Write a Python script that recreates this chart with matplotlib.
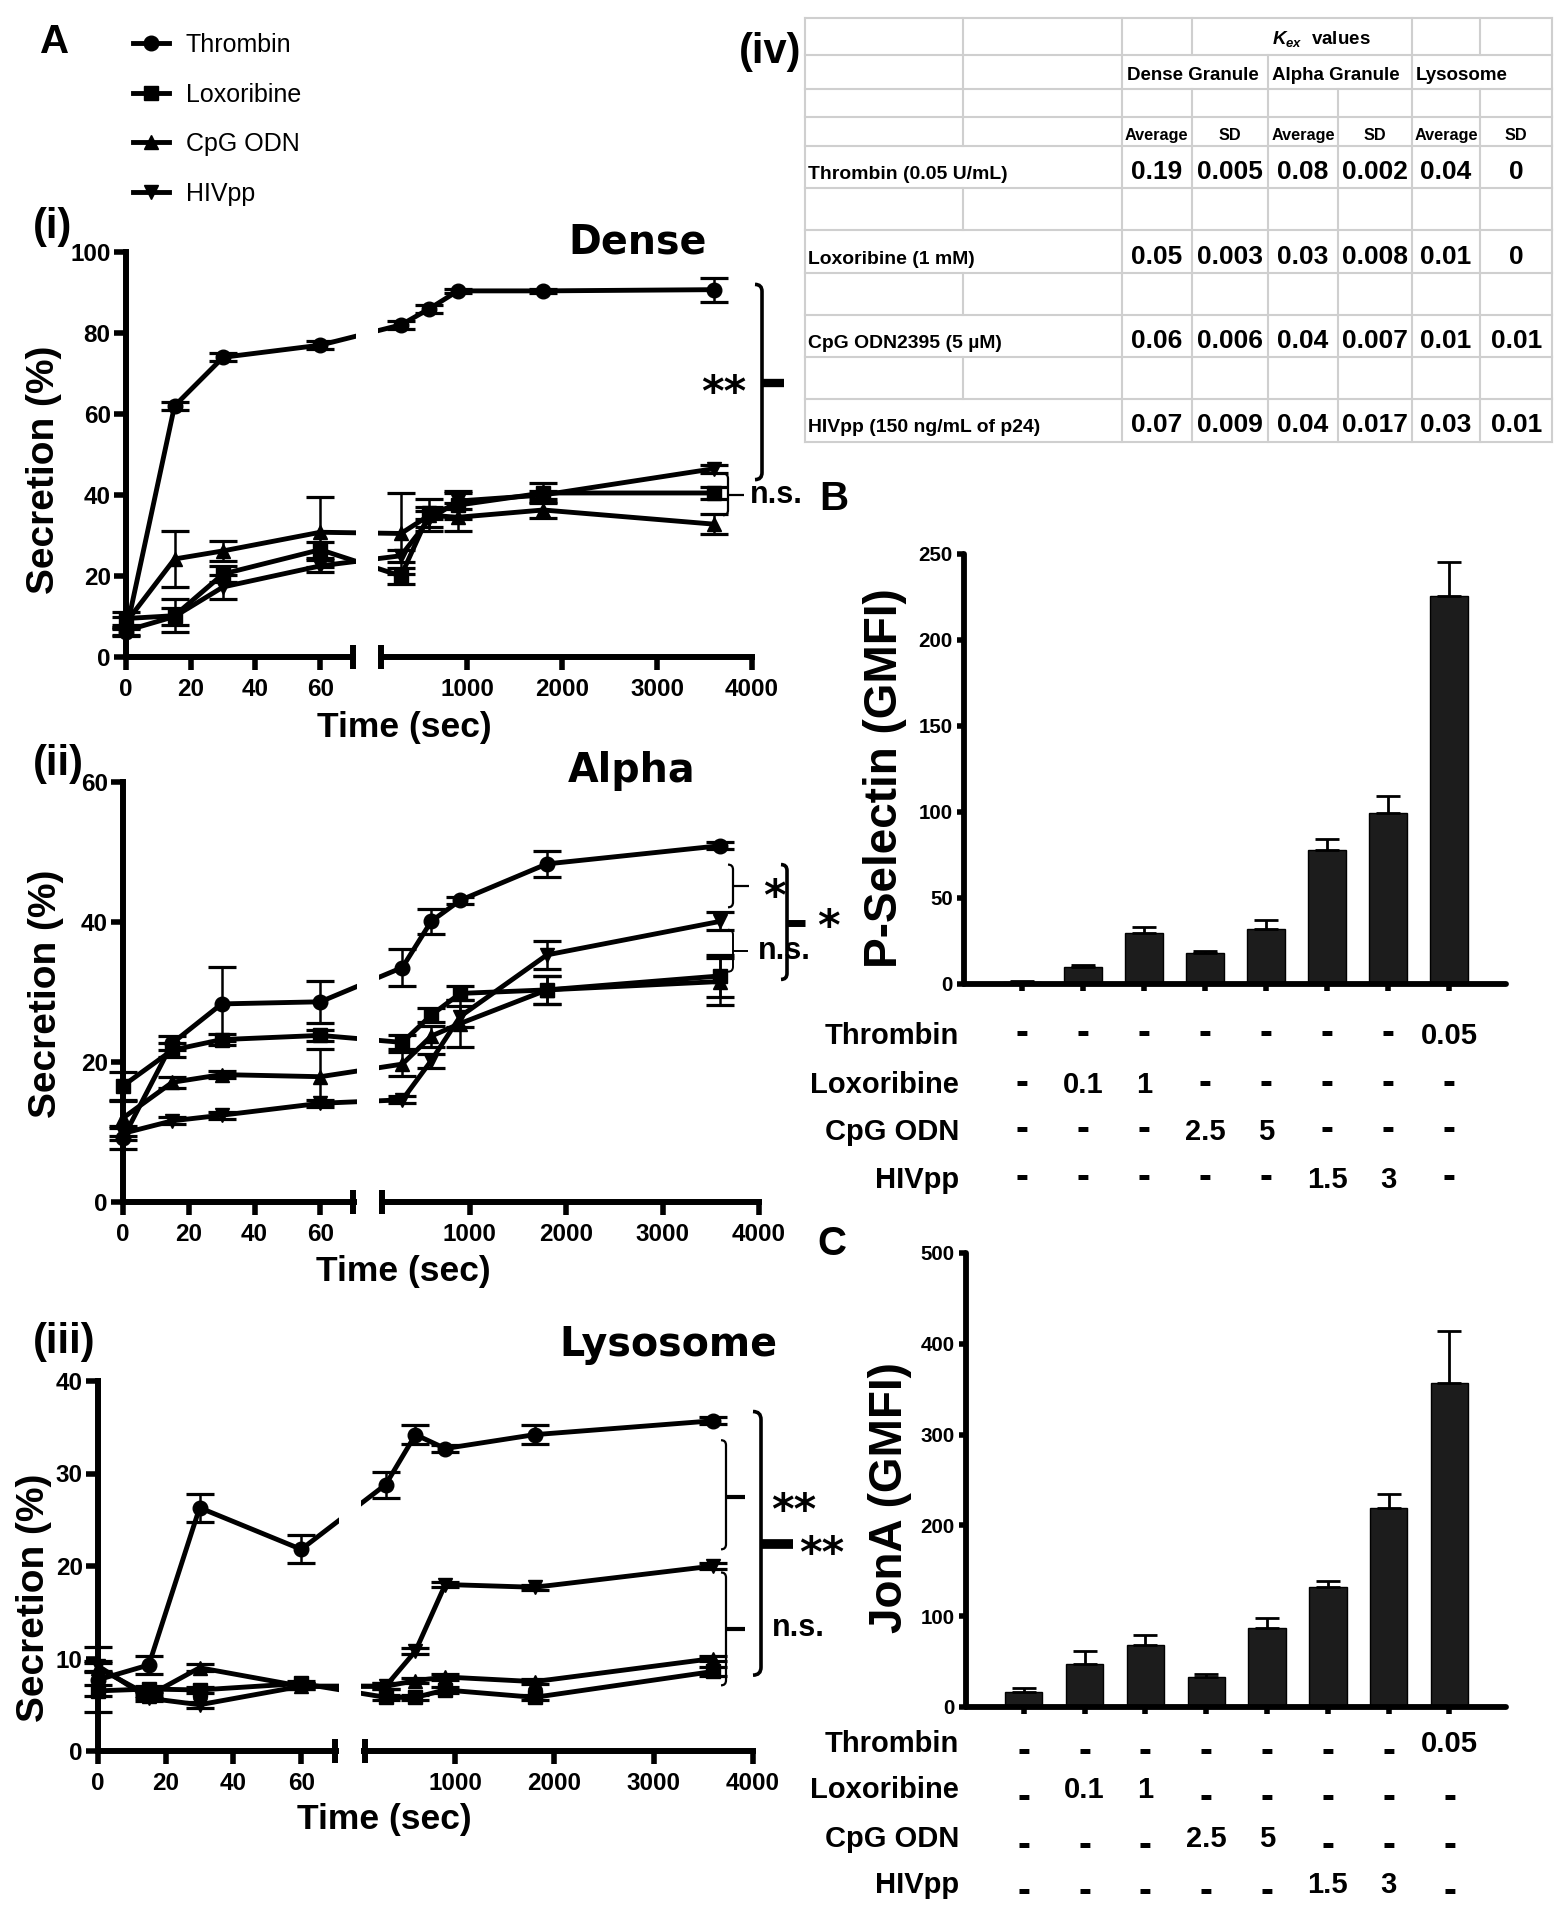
import numpy as np
import matplotlib
matplotlib.use("Agg")
import matplotlib.pyplot as plt
from matplotlib import font_manager
from matplotlib.path import Path
from matplotlib.patches import PathPatch
from matplotlib.lines import Line2D
from matplotlib.ticker import NullFormatter

_names = {f.name for f in font_manager.fontManager.ttflist}
SANS = "Liberation Sans" if "Liberation Sans" in _names else "DejaVu Sans"
if "Liberation Sans Narrow" in _names:
    NARROW, NSC = "Liberation Sans Narrow", 1.0
else:
    NARROW, NSC = SANS, 0.87
WIDE = "DejaVu Sans"


def nfs(s):
    return s * NSC


plt.rcParams["font.family"] = [NARROW, "DejaVu Sans"]
plt.rcParams["font.weight"] = "bold"
plt.rcParams["mathtext.fontset"] = "custom"
plt.rcParams["mathtext.it"] = f"{NARROW}:italic:bold"
plt.rcParams["mathtext.rm"] = f"{NARROW}:bold"

# ---------------- data ----------------
time_s = [0, 15, 30, 60, 300, 600, 900, 1800, 3600]
series_names = ["Thrombin", "Loxoribine", "CpG ODN", "HIVpp"]

dense_thrombin = [6.2, 62, 74, 77, 82, 86, 90.4, 90.4, 90.7]
dense_thrombin_sd = [1, 1, 1, 1, 1, 1, 0.5, 0.5, 3]
dense_loxoribine = [9.5, 10.2, 20.5, 26.5, 20, 35.5, 37.5, 40.5, 40.5]
dense_loxoribine_sd = [1.5, 4, 2, 2, 2, 1.5, 3.5, 2.5, 1.5]
dense_cpg = [8.5, 24.2, 26.2, 30.8, 30.5, 35, 34.5, 36.3, 32.8]
dense_cpg_sd = [1.5, 6.8, 2.5, 8.7, 10, 4, 3.5, 2, 2.5]
dense_hiv = [6.5, 10, 17.3, 22.5, 25, 34, 38.5, 40, 46.5]
dense_hiv_sd = [1, 2, 3, 1.5, 1.5, 2, 2, 1, 1]

alpha_thrombin = [9.1, 22.7, 28.3, 28.6, 33.5, 40.1, 43.1, 48.3, 50.9]
alpha_thrombin_sd = [1.5, 1, 5.3, 3, 2.7, 1.8, 0.5, 1.9, 0.5]
alpha_loxoribine = [16.6, 21.7, 23.2, 23.8, 22.8, 26.7, 29.8, 30.3, 32.3]
alpha_loxoribine_sd = [2, 1, 0.8, 0.8, 1, 1, 1, 2, 3]
alpha_cpg = [12, 17.1, 18.2, 17.9, 19.7, 23.7, 25.5, 30.3, 31.5]
alpha_cpg_sd = [2.5, 0.8, 0.5, 3.9, 1.7, 1.5, 3.3, 2, 3.4]
alpha_hiv = [9.8, 11.6, 12.4, 14.1, 14.6, 20.2, 26.5, 35.3, 40.1]
alpha_hiv_sd = [1, 0.5, 0.5, 0.5, 0.5, 1, 1.5, 2, 1.3]

lyso_thrombin = [7.7, 9.3, 26.3, 21.8, 28.8, 34.2, 32.7, 34.2, 35.7]
lyso_thrombin_sd = [3.5, 1, 1.5, 1.5, 1.4, 1, 0.4, 1, 0.4]
lyso_loxoribine = [6.5, 6.7, 6.6, 7.3, 5.8, 5.8, 6.6, 5.8, 8.6]
lyso_loxoribine_sd = [0.6, 0.3, 0.3, 0.3, 0.3, 0.3, 0.3, 0.3, 0.5]
lyso_cpg = [9, 6, 9, 7, 7, 7.6, 8, 7.5, 10]
lyso_cpg_sd = [0.5, 0.3, 0.4, 0.3, 0.3, 0.3, 0.3, 0.3, 0.3]
lyso_hiv = [9.2, 5.7, 5, 7, 7, 10.8, 18, 17.7, 20]
lyso_hiv_sd = [0.5, 0.3, 0.3, 0.3, 0.3, 0.3, 0.3, 0.3, 0.3]

# Kex table
kex_rows = ["Thrombin (0.05 U/mL)", "Loxoribine (1 mM)", "CpG ODN2395 (5 \u00b5M)",
            "HIVpp (150 ng/mL of p24)"]
kex_groups = ["Dense Granule", "Alpha Granule", "Lysosome"]
kex_dense_avg = [0.19, 0.05, 0.06, 0.07]
kex_dense_sd = [0.005, 0.003, 0.006, 0.009]
kex_alpha_avg = [0.08, 0.03, 0.04, 0.04]
kex_alpha_sd = [0.002, 0.008, 0.007, 0.017]
kex_lyso_avg = [0.04, 0.01, 0.01, 0.03]
kex_lyso_sd = [0, 0, 0.01, 0.01]

# B / C bars
pselectin = [1.4, 10.1, 29.6, 18.1, 32, 77.9, 99.5, 225.3]
pselectin_err = [0.5, 1, 3.8, 1, 5, 6.3, 10, 20.3]
jona = [16.1, 47.5, 68.3, 32.7, 87.3, 132.2, 219.5, 357]
jona_err = [4.4, 14.7, 10.5, 3.9, 11.2, 6.3, 15.5, 57]
cond_labels = ["Thrombin", "Loxoribine", "CpG ODN", "HIVpp"]
cond_thrombin = ["-", "-", "-", "-", "-", "-", "-", "0.05"]
cond_loxoribine = ["-", "0.1", "1", "-", "-", "-", "-", "-"]
cond_cpg = ["-", "-", "-", "2.5", "5", "-", "-", "-"]
cond_hiv = ["-", "-", "-", "-", "-", "1.5", "3", "-"]

# ---------------- figure helpers ----------------
W, H = 1561, 1920
fig = plt.figure(figsize=(W / 100, H / 100), dpi=100)
PX = 72 / 100  # points per pixel


def add_ax(l, t, r, b):
    return fig.add_axes([l / W, 1 - b / H, (r - l) / W, (b - t) / H])


def text_c(x, yc, s, fs, ha="center", family=SANS, weight="bold", capfrac=0.358, **kw):
    base = yc + capfrac * fs / PX
    fig.text(x / W, 1 - base / H, s, fontsize=fs, ha=ha, va="baseline",
             family=family, weight=weight, **kw)


def text_b(x, base, s, fs, ha="left", family=SANS, weight="bold", **kw):
    fig.text(x / W, 1 - base / H, s, fontsize=fs, ha=ha, va="baseline",
             family=family, weight=weight, **kw)


# broken time axis scale
L_FRAC, R0_FRAC, T0 = 0.362, 0.408, 94.0
_slope_r = (1 - R0_FRAC) / (4000 - T0)
_TS = np.array([-1e6, 0, 70, T0, 4000, 1e6])
_US = np.array([-1e6 * L_FRAC / 70, 0, L_FRAC, R0_FRAC, 1.0, 1 + (1e6 - 4000) * _slope_r])


def fwd(t):
    return np.interp(np.asarray(t, float), _TS, _US)


def inv(u):
    return np.interp(np.asarray(u, float), _US, _TS)


MARKERS = ["o", "s", "^", "v"]
LW_SP = 4.3
TICK_FS = 19 if NSC == 1.0 else 17.5


def time_panel(rect, ymax, ystep, ys, errs):
    ax = add_ax(*rect)
    ax.set_xscale("function", functions=(fwd, inv))
    ax.set_xlim(0, 4000)
    ax.set_ylim(0, ymax)
    handles = []
    for y, e, m in zip(ys, errs, MARKERS):
        eb = ax.errorbar(time_s, y, yerr=e, fmt="none", ecolor="black",
                         elinewidth=1.8, capsize=10, capthick=2.3, zorder=2.1)
        for a in eb.get_children():
            a.set_clip_on(False)
        ln, = ax.plot(time_s, y, marker=m, color="black", lw=3.5, ms=10.5,
                      clip_on=False, zorder=2.2, solid_joinstyle="round")
        handles.append(ln)
    ax.spines[["top", "right"]].set_visible(False)
    for sp in ("left", "bottom"):
        ax.spines[sp].set_linewidth(LW_SP)
        ax.spines[sp].set_zorder(2.0)
    ax.set_xticks([0, 20, 40, 60, 1000, 2000, 3000, 4000])
    ax.set_xticklabels(["0", "20", "40", "60", "1000", "2000", "3000", "4000"])
    ax.set_xticks([70, T0], minor=True)
    ax.xaxis.set_minor_formatter(NullFormatter())
    ax.set_yticks(np.arange(0, ymax + 0.1, ystep))
    ax.tick_params(which="major", length=9, width=4, labelsize=TICK_FS)
    ax.tick_params(axis="x", which="major", pad=6)
    ax.tick_params(axis="y", which="major", pad=2)
    ax.tick_params(axis="x", which="minor", direction="inout", length=17, width=4.3)
    ta, tb = inv(L_FRAC + 0.006), inv(R0_FRAC - 0.006)
    ax.axvspan(ta, tb, ymin=-0.08, ymax=1.0, color="white", zorder=2.6,
               clip_on=False, lw=0)
    return ax, handles


def ydisp(ax, v):
    return ax.transData.transform((1000.0, v))[1]


def brace(ax, x, y0, y1, ymid, tip, lw=1.6, hook=6, tiplw=None):
    b, t, m = ydisp(ax, y0), ydisp(ax, y1), ydisp(ax, ymid)
    verts = [(x - hook, t), (x, t), (x, t - hook), (x, b + hook), (x, b), (x - hook, b)]
    codes = [Path.MOVETO, Path.CURVE3, Path.CURVE3, Path.LINETO, Path.CURVE3, Path.CURVE3]
    verts = [(vx / W, vy / H) for vx, vy in verts]
    fig.add_artist(PathPatch(Path(verts, codes), fill=False, lw=lw, color="black",
                             transform=fig.transFigure))
    fig.add_artist(Line2D([x / W, (x + tip) / W], [m / H, m / H], lw=tiplw or lw,
                          color="black", transform=fig.transFigure,
                          solid_capstyle="butt"))


def star(ax, x, yv, s, fs=31):
    yd = ydisp(ax, yv) - 0.54 * fs / PX
    fig.text(x / W, yd / H, s, fontsize=fs, ha="center", va="baseline",
             family=WIDE, weight="bold")


def ns(ax, x, yv, fs=22):
    yd = ydisp(ax, yv) - 0.26 * fs / PX
    fig.text(x / W, yd / H, "n.s.", fontsize=fs, ha="left", va="baseline",
             family=SANS, weight="bold")


# ---------------- panel A ----------------
axD, hD = time_panel((126, 252, 752, 657), 100, 20,
                     [dense_thrombin, dense_loxoribine, dense_cpg, dense_hiv],
                     [dense_thrombin_sd, dense_loxoribine_sd, dense_cpg_sd, dense_hiv_sd])
axA, _ = time_panel((123, 782, 759, 1202), 60, 20,
                    [alpha_thrombin, alpha_loxoribine, alpha_cpg, alpha_hiv],
                    [alpha_thrombin_sd, alpha_loxoribine_sd, alpha_cpg_sd, alpha_hiv_sd])
axL, _ = time_panel((98, 1381, 753, 1751), 40, 10,
                    [lyso_thrombin, lyso_loxoribine, lyso_cpg, lyso_hiv],
                    [lyso_thrombin_sd, lyso_loxoribine_sd, lyso_cpg_sd, lyso_hiv_sd])

for (xc, yc) in [(44, 470), (46, 994), (34, 1598)]:
    fig.text(xc / W, 1 - yc / H, "Secretion (%)", rotation=90, fontsize=28,
             ha="center", va="center", family=SANS, weight="bold")
for (xc, yc) in [(404, 727), (403, 1271), (384, 1820)]:
    fig.text(xc / W, 1 - yc / H, "Time (sec)", fontsize=25.5, ha="center",
             va="center", family=SANS, weight="bold")
for (xc, base, s) in [(638, 254, "Dense"), (632, 782, "Alpha"), (668, 1356, "Lysosome")]:
    text_b(xc, base, s, 28.5, ha="center", family=WIDE)
for (base, s) in [(238, "(i)"), (775, "(ii)"), (1353, "(iii)")]:
    text_b(33, base, s, 30)
text_b(739, 63, "(iv)", 30)
text_b(40, 53, "A", 29)
text_b(819, 510, "B", 29)
text_b(817, 1255, "C", 29)

fig.legend(hD, series_names, loc="upper left", bbox_to_anchor=(133 / W, 1 - 33 / H),
           frameon=False, borderpad=0, borderaxespad=0, handlelength=1.45,
           handletextpad=0.65, labelspacing=1.02,
           prop={"family": SANS, "size": 18, "weight": "normal"})

# significance brackets
brace(axD, 762, 43.8, 92, 67.7, 22, lw=2.6, hook=7, tiplw=6)
star(axD, 724, 67.7, "**")
brace(axD, 728, 35, 45.3, 40, 16, lw=1.6, hook=5)
ns(axD, 750, 40)

brace(axA, 733, 42.1, 48.2, 45.1, 16, lw=1.6, hook=5)
star(axA, 774, 45.1, "*")
brace(axA, 733, 32.9, 38.9, 35.8, 15, lw=1.4, hook=5)
ns(axA, 758, 35.8)
brace(axA, 787, 31.8, 48.2, 39.8, 18, lw=2.6, hook=6, tiplw=5)
star(axA, 828, 40.8, "*")

brace(axL, 726, 21.8, 33.6, 27.5, 19, lw=1.6, hook=5, tiplw=3)
star(axL, 794, 27, "**")
brace(axL, 726, 7.1, 19.3, 13.2, 19, lw=1.6, hook=5, tiplw=3)
ns(axL, 772, 13.3)
brace(axL, 761, 8.2, 36.7, 22.4, 32, lw=2.6, hook=8, tiplw=7)
star(axL, 822, 22.4, "**")

# ---------------- panels B and C ----------------
xpos = np.arange(len(pselectin))


def bar_panel(rect, vals, errs, ymax, ystep, ylabel, yl_xy, rows_y, dash_dy):
    ax = add_ax(*rect)
    ax.bar(xpos, vals, width=0.615, color="#1c1c1c", edgecolor="black", lw=1)
    ax.errorbar(xpos, vals, yerr=[np.zeros(len(vals)), errs], fmt="none",
                ecolor="black", elinewidth=2, capsize=8.5, capthick=2)
    ax.set_xlim(-0.95, 7.93)
    ax.set_ylim(0, ymax)
    ax.spines[["top", "right"]].set_visible(False)
    for sp in ("left", "bottom"):
        ax.spines[sp].set_linewidth(4.2)
        ax.spines[sp].set_capstyle("round")
    ax.set_xticks(xpos)
    ax.set_xticklabels([])
    ax.set_yticks(np.arange(0, ymax + 0.1, ystep))
    ax.tick_params(axis="x", length=5, width=4)
    ax.tick_params(axis="y", length=5, width=4, labelsize=nfs(17), pad=3)
    fig.text(yl_xy[0] / W, 1 - yl_xy[1] / H, ylabel, rotation=90, fontsize=33,
             ha="center", va="center", family=SANS, weight="bold")
    rows = [cond_thrombin, cond_loxoribine, cond_cpg, cond_hiv]
    for lab, row, yc in zip(cond_labels, rows, rows_y):
        text_c(959, yc, lab, 21, ha="right")
        for i, s in enumerate(row):
            xf = ax.transData.transform((i, 0))[0]
            if s == "-":
                text_c(xf, yc + dash_dy, "-", 28, capfrac=0.27)
            else:
                text_c(xf, yc, s, 21)
    return ax


bar_panel((964, 554, 1506, 984), pselectin, pselectin_err, 250, 50,
          "P-Selectin (GMFI)", (885, 778), [1034, 1083, 1130, 1178], 0)
bar_panel((966, 1253, 1506, 1707), jona, jona_err, 500, 100,
          "JonA (GMFI)", (890, 1498), [1742, 1788, 1837, 1883], 9)

# ---------------- table (iv) ----------------
row_edges = [18.3, 55, 89.3, 117.3, 146, 188.3, 230, 272.7, 315, 357.3, 399, 441.7]
col_edges = [805, 963.3, 1121.6, 1191.8, 1268.3, 1337.9, 1411.8, 1480.4, 1552]
GRID = "#cfcfcf"
for y in row_edges:
    fig.add_artist(Line2D([col_edges[0] / W, col_edges[-1] / W], [1 - y / H] * 2,
                          color=GRID, lw=1.5, transform=fig.transFigure))
hidden = {0: {4, 5}, 1: {3, 5, 7}, 4: {1}, 6: {1}, 8: {1}, 10: {1}}
for r in range(len(row_edges) - 1):
    for ci, x in enumerate(col_edges):
        if ci in hidden.get(r, set()):
            continue
        fig.add_artist(Line2D([x / W] * 2, [1 - row_edges[r] / H, 1 - row_edges[r + 1] / H],
                              color=GRID, lw=1.5, transform=fig.transFigure))

text_c(1272, 37, r"$K_{ex}$  values", nfs(15.5), ha="left", family=NARROW)
for x, g in zip([1127, 1272, 1416], kex_groups):
    text_c(x, 73, g, nfs(15.5), ha="left", family=NARROW)
for c in range(6):
    xc = (col_edges[2 + c] + col_edges[3 + c]) / 2
    text_c(xc, 134, "Average" if c % 2 == 0 else "SD", nfs(13.5), family=NARROW)
cols = [kex_dense_avg, kex_dense_sd, kex_alpha_avg, kex_alpha_sd, kex_lyso_avg, kex_lyso_sd]
NUM_FS = 20 if NSC == 1.0 else 19
for ri, (lab, yc) in enumerate(zip(kex_rows, [170, 255, 339, 423])):
    text_c(808, yc + 2, lab, nfs(16), ha="left", family=NARROW)
    for c, colvals in enumerate(cols):
        xc = (col_edges[2 + c] + col_edges[3 + c]) / 2
        text_c(xc, yc, f"{colvals[ri]:g}", NUM_FS, family=NARROW)

fig.savefig("out.png", dpi=100)
